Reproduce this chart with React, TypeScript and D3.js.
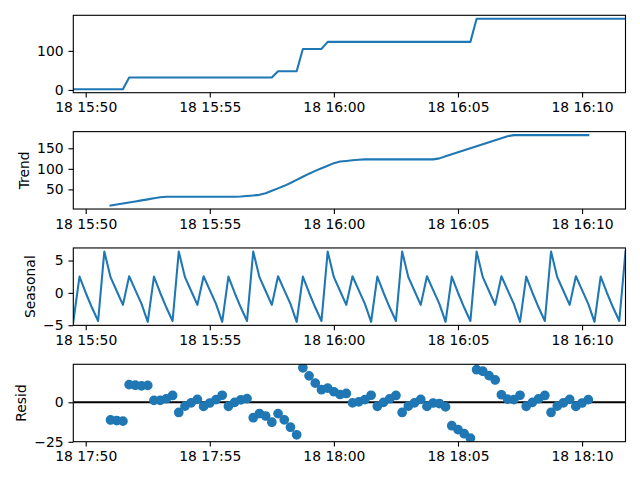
import { useEffect, useRef } from "react";
import * as d3 from "d3";

// sampling: one point every 15 s, first one at 15:49:30 on the 18th
const startTime = "18 15:49:30";
const stepSeconds = 15;

const observed = [
  2, 2, 2, 2, 2, 2, 2, 2, 2,
  32, 32, 32, 32, 32, 32, 32, 32, 32, 32, 32, 32,
  32, 32, 32, 32, 32, 32, 32, 32, 32, 32, 32, 32,
  48, 48, 48, 48,
  105, 105, 105, 105,
  123, 123, 123, 123, 123, 123, 123, 123, 123, 123, 123, 123,
  123, 123, 123, 123, 123, 123, 123, 123, 123, 123, 123, 123,
  182, 182, 182, 182, 182, 182, 182, 182, 182, 182, 182, 182, 182,
  182, 182, 182, 182, 182, 182, 182, 182, 182, 182, 182, 182,
];

const trend = [
  null, null, null, null, null, null,
  10.75, 13.25, 15.75, 18.25, 20.75, 23.25, 25.75, 28.25, 30.75,
  32, 32, 32, 32, 32, 32, 32, 32, 32, 32, 32, 32,
  32.67, 34.0, 35.33, 36.67, 40.38, 46.46, 52.54, 58.63, 65.46, 73.04,
  80.63, 88.21, 95.13, 101.38, 107.63, 113.88, 117.75, 119.25, 120.75, 122.25,
  123, 123, 123, 123, 123, 123, 123, 123, 123, 123, 123, 123,
  125.46, 130.38, 135.29, 140.21, 145.13, 150.04,
  154.96, 159.88, 164.79, 169.71, 174.63, 179.54,
  182, 182, 182, 182, 182, 182, 182, 182, 182, 182, 182, 182, 182,
  null, null, null, null, null, null,
];

const seasonal = [
  -4.48, 2.52, 0.02, -2.27, -4.35, 6.4, 2.43, 0.29, -1.86, 2.57, 0.43, -1.71,
  -4.48, 2.52, 0.02, -2.27, -4.35, 6.4, 2.43, 0.29, -1.86, 2.57, 0.43, -1.71,
  -4.48, 2.52, 0.02, -2.27, -4.35, 6.4, 2.43, 0.29, -1.86, 2.57, 0.43, -1.71,
  -4.48, 2.52, 0.02, -2.27, -4.35, 6.4, 2.43, 0.29, -1.86, 2.57, 0.43, -1.71,
  -4.48, 2.52, 0.02, -2.27, -4.35, 6.4, 2.43, 0.29, -1.86, 2.57, 0.43, -1.71,
  -4.48, 2.52, 0.02, -2.27, -4.35, 6.4, 2.43, 0.29, -1.86, 2.57, 0.43, -1.71,
  -4.48, 2.52, 0.02, -2.27, -4.35, 6.4, 2.43, 0.29, -1.86, 2.57, 0.43, -1.71,
  -4.48, 2.52, 0.02, -2.27, -4.35, 6.4,
];

const resid = [
  null, null, null, null, null, null,
  -11.18, -11.54, -11.9, 11.18, 10.82, 10.46,
  10.73, 1.23, 1.23, 2.27, 4.35, -6.4, -2.43, -0.29, 1.86, -2.57, -0.43, 1.71,
  4.48, -2.52, -0.02, 1.6, 2.35, -9.73, -7.1, -8.66, -12.6, -7.12, -11.06, -15.75,
  -20.56, 21.85, 16.77, 12.15, 7.98, 8.98, 6.69, 4.96, 5.61, -0.32, 0.32, 1.71,
  4.48, -2.52, -0.02, 2.27, 4.35, -6.4, -2.43, -0.29, 1.86, -2.57, -0.43, -0.75,
  -2.9, -14.81, -17.23, -19.86, -22.69, 20.65, 19.69, 16.92, 14.15, 4.8, 2.03, 1.71,
  4.48, -2.52, -0.02, 2.27, 4.35, -6.4, -2.43, -0.29, 1.86, -2.57, -0.43, 1.71,
  null, null, null, null, null, null,
];

const xTickLabels = ["18 15:50", "18 15:55", "18 16:00", "18 16:05", "18 16:10"];
// the resid panel shows its dates two hours later
const residTickLabels = ["18 17:50", "18 17:55", "18 18:00", "18 18:05", "18 18:10"];

const observedTicks = [0, 100];
const trendTicks = [50, 100, 150];
const seasonalTicks = [-5, 0, 5];
const residTicks = [-25, 0];

const parseTime = d3.utcParse("%d %H:%M:%S");
const parseTick = d3.utcParse("%d %H:%M");

const AX_LEFT = 73.3;
const AX_RIGHT = 625.5;
const AX_TOP = 15.3;
const AX_STEP = 116.33;
const AX_HEIGHT = 77.4;
const BLUE = "#1f77b4";
const FONT = "'DejaVu Sans', sans-serif";
const FS = 13.9;
const TICK = 4.86;

type Panel = {
  label: string;
  values: (number | null)[];
  yTicks: number[];
  xLabels: string[];
  dots?: boolean;
};

const panels: Panel[] = [
  { label: "", values: observed, yTicks: observedTicks, xLabels: xTickLabels },
  { label: "Trend", values: trend, yTicks: trendTicks, xLabels: xTickLabels },
  { label: "Seasonal", values: seasonal, yTicks: seasonalTicks, xLabels: xTickLabels },
  { label: "Resid", values: resid, yTicks: residTicks, xLabels: residTickLabels, dots: true },
];

export default function App() {
  const svgRef = useRef<SVGSVGElement | null>(null);

  useEffect(() => {
    const svg = d3.select(svgRef.current);
    svg.selectAll("*").remove();

    const t0 = parseTime(startTime)!;
    const times = observed.map((_, i) => d3.utcSecond.offset(t0, i * stepSeconds));
    const x = d3
      .scaleUtc()
      .domain([times[0], times[times.length - 1]])
      .range([AX_LEFT, AX_RIGHT]);
    const tickTimes = xTickLabels.map((s) => parseTick(s)!);

    panels.forEach((p, i) => {
      const top = AX_TOP + i * AX_STEP;
      const bottom = top + AX_HEIGHT;
      const vals = p.values.filter((v) => v != null) as number[];
      const [lo, hi] = d3.extent(vals) as [number, number];
      const pad = (hi - lo) * 0.05;
      const y = d3.scaleLinear().domain([lo - pad, hi + pad]).range([bottom, top]);

      const g = svg.append("g");

      g.append("clipPath")
        .attr("id", `clip-${i}`)
        .append("rect")
        .attr("x", AX_LEFT)
        .attr("y", top)
        .attr("width", AX_RIGHT - AX_LEFT)
        .attr("height", AX_HEIGHT);

      const plot = g.append("g").attr("clip-path", `url(#clip-${i})`);

      if (p.dots) {
        plot
          .append("line")
          .attr("x1", AX_LEFT)
          .attr("x2", AX_RIGHT)
          .attr("y1", y(0))
          .attr("y2", y(0))
          .attr("stroke", "#000")
          .attr("stroke-width", 2.08);

        plot
          .selectAll("circle")
          .data(p.values.map((v, j) => ({ v, t: times[j] })).filter((d) => d.v != null))
          .join("circle")
          .attr("cx", (d) => x(d.t))
          .attr("cy", (d) => y(d.v as number))
          .attr("r", 4.17)
          .attr("fill", BLUE)
          .attr("stroke", BLUE)
          .attr("stroke-width", 1.39);
      } else {
        const line = d3
          .line<number | null>()
          .defined((v) => v != null)
          .x((_, j) => x(times[j]))
          .y((v) => y(v as number));
        plot
          .append("path")
          .attr("d", line(p.values))
          .attr("fill", "none")
          .attr("stroke", BLUE)
          .attr("stroke-width", 2.08)
          .attr("stroke-linejoin", "round")
          .attr("stroke-linecap", "square");
      }

      // x axis
      const xAxis = g
        .append("g")
        .attr("transform", `translate(0,${bottom})`)
        .call(
          d3
            .axisBottom(x)
            .tickValues(tickTimes)
            .tickFormat((_, j) => p.xLabels[j])
            .tickSize(TICK)
            .tickPadding(TICK)
        );
      xAxis.select(".domain").remove();

      // y axis
      const yAxis = g
        .append("g")
        .attr("transform", `translate(${AX_LEFT},0)`)
        .call(
          d3
            .axisLeft(y)
            .tickValues(p.yTicks)
            .tickFormat(d3.format("d"))
            .tickSize(TICK)
            .tickPadding(TICK)
        );
      yAxis.select(".domain").remove();

      [xAxis, yAxis].forEach((a) => {
        a.attr("font-family", FONT).attr("font-size", FS);
        a.selectAll("line").attr("stroke", "#000").attr("stroke-width", 1.11);
        a.selectAll("text").attr("fill", "#000");
      });

      // spines
      g.append("rect")
        .attr("x", AX_LEFT)
        .attr("y", top)
        .attr("width", AX_RIGHT - AX_LEFT)
        .attr("height", AX_HEIGHT)
        .attr("fill", "none")
        .attr("stroke", "#000")
        .attr("stroke-width", 1.11);

      if (p.label) {
        // bbox is in the axis group's own coordinates, so shift by its translate
        const box = (yAxis.node() as SVGGElement).getBBox();
        const lx = AX_LEFT + box.x - 5.56 - 0.236 * FS + 1;
        g.append("text")
          .attr("transform", `translate(${lx},${(top + bottom) / 2}) rotate(-90)`)
          .attr("text-anchor", "middle")
          .attr("font-family", FONT)
          .attr("font-size", FS)
          .attr("fill", "#000")
          .text(p.label);
      }
    });
  }, []);

  return (
    <svg
      ref={svgRef}
      width={640}
      height={480}
      style={{ position: "absolute", left: 0, top: 0, background: "#fff" }}
    />
  );
}
